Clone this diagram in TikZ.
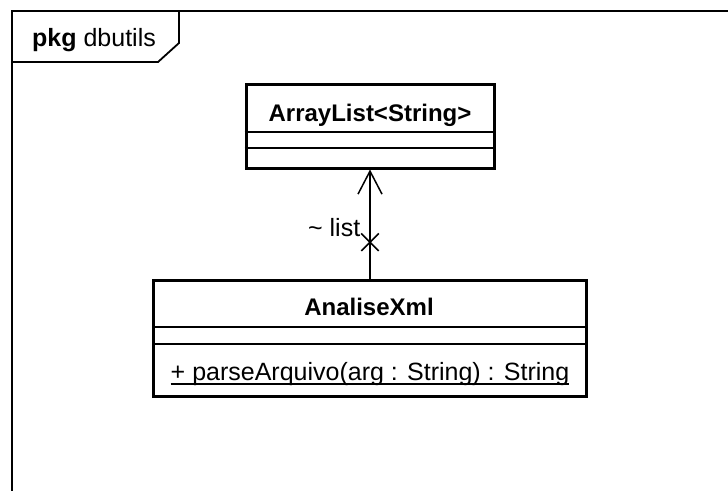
\documentclass[tikz,border=0pt]{standalone}
\usepackage{fontspec}
\setmainfont{Liberation Sans}
\usetikzlibrary{arrows.meta,shapes.misc}
\begin{document}
\begin{tikzpicture}[
            x=1pt, y=-1pt,
            frame/.style={line width=1.8pt},
            classbox/.style={rectangle, draw, line width=3pt},
            classname/.style={font=\fontsize{24}{28}\selectfont\bfseries, inner sep=0pt, anchor=base},
            member/.style={font=\fontsize{25}{30}\selectfont, inner sep=0pt, anchor=base},
            divider/.style={line width=1.5pt},
            assoc/.style={line width=1.5pt, -{Straight Barb[length=23pt, width=24pt]}},
            xmark/.style={cross out, draw, line width=1.5pt, minimum size=16pt, inner sep=0pt},
            role/.style={font=\fontsize{25}{30}\selectfont, inner sep=0pt, anchor=base east}
        ]
            \useasboundingbox (0,0) rectangle (728,491);
            \draw [frame] (728,11) -- (12,11) -- (12,491);
            \draw [frame] (12,62) -- (158,62) -- (179,43) -- (179,11);
            \node (pkgname) [member, anchor=base west] at (32,46) {\textbf{pkg} dbutils};

            \node (arraylist) [classbox, minimum width=248pt, minimum height=84pt] at (370,126) {};
            \node (arraylisttitle) [classname] at (370,121) {ArrayList<String>};
            \draw [divider] (arraylist.west |- 0,132) -- (arraylist.east |- 0,132);
            \draw [divider] (arraylist.west |- 0,148) -- (arraylist.east |- 0,148);

            \node (analisexml) [classbox, minimum width=433pt, minimum height=116pt] at (370,338.5) {};
            \node (analisexmltitle) [classname] at (369,315) {AnaliseXml};
            \draw [divider] (analisexml.west |- 0,327) -- (analisexml.east |- 0,327);
            \draw [divider] (analisexml.west |- 0,344) -- (analisexml.east |- 0,344);
            \node (parsemethod) [member] at (370,380) {+ parseArquivo(arg : String) : String};
            \draw [divider] ([yshift=-4pt]parsemethod.base west) -- ([yshift=-4pt]parsemethod.base east);

            \draw [assoc] (analisexml) --
                node (nonnav) [xmark, pos=0.336] {}
                node (rolename) [role, pos=0.39, xshift=-9pt] {\textasciitilde{} list}
                (arraylist);
        \end{tikzpicture}
\end{document}
